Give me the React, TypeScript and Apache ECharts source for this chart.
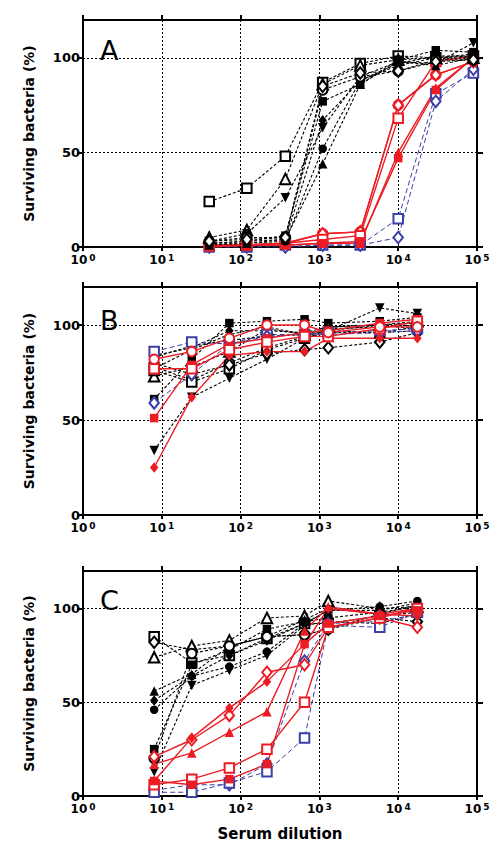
import React, { useEffect, useRef } from "react";
import * as echarts from "echarts";

// ---------- data ----------
const dilutionA = [40, 120, 370, 1100, 3300, 10000, 30000, 90000];
const dilutionBC = [8, 24, 72, 216, 648, 1296, 5832, 17496];
const yTickValues = [0, 50, 100];
const panelLetters = ["A", "B", "C"];
const yTitle = "Surviving bacteria (%)";
const xTitle = "Serum dilution";

// Panel A
const aBlackOpenSquare = [24, 31, 48, 87, 97, 101, 100, 101];
const aBlackOpenTriangle = [5, 9, 36, 86, 96, 99, 100, 100];
const aBlackInvTriangle = [3, 7, 26, 63, 90, 98, 97, 108];
const aBlackDiamond = [2, 3, 4, 67, 88, 96, 100, 102];
const aBlackCircle = [2, 2, 3, 52, 88, 97, 101, 101];
const aBlackTriangle = [1, 2, 4, 44, 86, 98, 96, 100];
const aBlackSquare = [2, 3, 6, 77, 86, 99, 104, 103];
const aBlackOpenCircle = [3, 5, 5, 83, 90, 93, 99, 99];
const aBlackOpenDiamond = [3, 4, 5, 85, 92, 93, 98, 99];
const aRedOpenCircle = [1, 1, 2, 7, 8, 75, 91, 98];
const aRedOpenSquare = [1, 1, 2, 4, 6, 68, 98, 101];
const aRedSquare = [0, 1, 1, 2, 3, 47, 83, 100];
const aRedTriangle = [0, 1, 1, 2, 2, 50, 84, 100];
const aBlueOpenSquare = [0, 0, 1, 1, 1, 15, 81, 92];
const aBlueOpenDiamond = [0, 0, 0, 1, 1, 5, 77, 94];

// Panel B
const bBlackSquare = [61, 82, 101, 102, 103, 101, 102, 104];
const bBlackDiamond = [84, 88, 97, 97, 96, 99, 100, 101];
const bBlackCircle = [83, 89, 92, 94, 95, 97, 100, 98];
const bBlackOpenTriangle = [73, 78, 86, 98, 95, 99, 100, 102];
const bBlackOpenCircle = [78, 71, 80, 88, 94, 97, 96, 97];
const bBlackOpenSquare = [76, 70, 77, 87, 93, 96, 96, 99];
const bBlackInvTriangle = [34, 62, 72, 82, 93, 97, 109, 106];
const bBlackOpenDiamond = [80, 74, 79, 85, 87, 88, 91, 96];
const bBlackTriangle = [77, 87, 95, 99, 95, 98, 99, 100];
const bRedSquare = [51, 79, 90, 93, 96, 97, 101, 103];
const bRedDiamond = [25, 62, 84, 86, 86, 93, 93, 93];
const bRedOpenSquare = [77, 77, 87, 91, 94, 94, 98, 102];
const bRedOpenCircle = [82, 86, 93, 100, 100, 96, 99, 99];
const bBlueOpenSquare = [86, 91, 90, 95, 95, 96, 97, 98];
const bBlueOpenDiamond = [59, 74, 90, 94, 95, 95, 96, 97];

// Panel C
const cBlackOpenSquare = [85, 71, 75, 84, 92, 92, 96, 98];
const cBlackOpenDiamond = [82, 78, 80, 85, 86, 89, 95, 93];
const cBlackOpenTriangle = [74, 80, 83, 95, 96, 104, 100, 101];
const cBlackTriangle = [56, 65, 80, 85, 94, 100, 97, 102];
const cBlackDiamond = [51, 64, 75, 83, 92, 99, 99, 103];
const cBlackCircle = [46, 64, 69, 77, 92, 99, 101, 104];
const cBlackSquare = [25, 70, 78, 89, 93, 95, 98, 101];
const cBlackInvTriangle = [13, 59, 67, 75, 91, 93, 92, 97];
const cBlackOpenCircle = [20, 76, 80, 85, 86, 89, 97, 100];
const cRedOpenDiamond = [21, 30, 43, 66, 70, 90, 95, 90];
const cRedDiamond = [8, 31, 47, 61, 81, 100, 97, 96];
const cRedTriangle = [17, 23, 34, 45, 88, 101, 97, 100];
const cRedOpenSquare = [6, 9, 15, 25, 50, 90, 95, 100];
const cRedSquare = [8, 6, 9, 17, 81, 92, 96, 99];
const cBlueOpenDiamond = [3, 6, 6, 17, 72, 92, 93, 97];
const cBlueOpenSquare = [2, 2, 7, 13, 31, 91, 90, 98];

type Group = "black" | "red" | "blue";
type Mark = "sq" | "osq" | "tri" | "otri" | "itri" | "dia" | "odia" | "cir" | "ocir";
interface Curve { values: number[]; mark: Mark; group: Group }

const curvesA: Curve[] = [
  { values: aBlueOpenSquare, mark: "osq", group: "blue" },
  { values: aBlueOpenDiamond, mark: "odia", group: "blue" },
  { values: aRedOpenCircle, mark: "ocir", group: "red" },
  { values: aRedOpenCircle, mark: "odia", group: "red" },
  { values: aRedOpenSquare, mark: "osq", group: "red" },
  { values: aRedSquare, mark: "sq", group: "red" },
  { values: aRedTriangle, mark: "tri", group: "red" },
  { values: aBlackOpenSquare, mark: "osq", group: "black" },
  { values: aBlackOpenTriangle, mark: "otri", group: "black" },
  { values: aBlackInvTriangle, mark: "itri", group: "black" },
  { values: aBlackDiamond, mark: "dia", group: "black" },
  { values: aBlackCircle, mark: "cir", group: "black" },
  { values: aBlackTriangle, mark: "tri", group: "black" },
  { values: aBlackSquare, mark: "sq", group: "black" },
  { values: aBlackOpenCircle, mark: "ocir", group: "black" },
  { values: aBlackOpenDiamond, mark: "odia", group: "black" },
];

const curvesB: Curve[] = [
  { values: bBlackSquare, mark: "sq", group: "black" },
  { values: bBlackDiamond, mark: "dia", group: "black" },
  { values: bBlackCircle, mark: "cir", group: "black" },
  { values: bBlackOpenTriangle, mark: "otri", group: "black" },
  { values: bBlackOpenCircle, mark: "ocir", group: "black" },
  { values: bBlackOpenSquare, mark: "osq", group: "black" },
  { values: bBlackInvTriangle, mark: "itri", group: "black" },
  { values: bBlackOpenDiamond, mark: "odia", group: "black" },
  { values: bBlackTriangle, mark: "tri", group: "black" },
  { values: bBlueOpenSquare, mark: "osq", group: "blue" },
  { values: bBlueOpenDiamond, mark: "odia", group: "blue" },
  { values: bRedSquare, mark: "sq", group: "red" },
  { values: bRedDiamond, mark: "dia", group: "red" },
  { values: bRedOpenSquare, mark: "osq", group: "red" },
  { values: bRedOpenCircle, mark: "ocir", group: "red" },
];

const curvesC: Curve[] = [
  { values: cBlackOpenSquare, mark: "osq", group: "black" },
  { values: cBlackOpenDiamond, mark: "odia", group: "black" },
  { values: cBlackOpenTriangle, mark: "otri", group: "black" },
  { values: cBlackTriangle, mark: "tri", group: "black" },
  { values: cBlackDiamond, mark: "dia", group: "black" },
  { values: cBlackCircle, mark: "cir", group: "black" },
  { values: cBlackSquare, mark: "sq", group: "black" },
  { values: cBlackInvTriangle, mark: "itri", group: "black" },
  { values: cBlackOpenCircle, mark: "ocir", group: "black" },
  { values: cBlueOpenDiamond, mark: "odia", group: "blue" },
  { values: cBlueOpenSquare, mark: "osq", group: "blue" },
  { values: cRedOpenDiamond, mark: "odia", group: "red" },
  { values: cRedDiamond, mark: "dia", group: "red" },
  { values: cRedTriangle, mark: "tri", group: "red" },
  { values: cRedOpenSquare, mark: "osq", group: "red" },
  { values: cRedSquare, mark: "sq", group: "red" },
];

const panelCurves = [curvesA, curvesB, curvesC];
const panelDilutions = [dilutionA, dilutionBC, dilutionBC];

// ---------- styling ----------
const FONT = "DejaVu Sans";
const COLORS: Record<Group, string> = { black: "#000000", red: "#ec1c24", blue: "#3b3fa6" };
const LINE: Record<Group, any> = {
  black: { width: 1.1, type: [3, 2] },
  red: { width: 1.4, type: "solid" },
  blue: { width: 1, type: [5, 3] },
};
const gridTops = [20, 287, 571];
const gridHeights = [227, 228, 225];
const letterTops = [37, 307, 587];
const GRID_LEFT = 83;
const GRID_WIDTH = 394;

function markStyle(mark: Mark, color: string) {
  const open = mark === "osq" || mark === "otri" || mark === "odia" || mark === "ocir";
  let symbol = "rect";
  let size: any = 8;
  let rotate = 0;
  switch (mark) {
    case "sq": symbol = "rect"; size = 8.5; break;
    case "osq": symbol = "rect"; size = 9.5; break;
    case "tri": symbol = "triangle"; size = 9.5; break;
    case "otri": symbol = "triangle"; size = 10.5; break;
    case "itri": symbol = "triangle"; size = 9.5; rotate = 180; break;
    case "dia": symbol = "diamond"; size = [8.5, 10.5]; break;
    case "odia": symbol = "diamond"; size = [9.5, 11.5]; break;
    case "cir": symbol = "circle"; size = 8.5; break;
    case "ocir": symbol = "circle"; size = 9.5; break;
  }
  const itemStyle = open
    ? { color: "#ffffff", borderColor: color, borderWidth: 2 }
    : { color, borderWidth: 0 };
  return { symbol, symbolSize: size, symbolRotate: rotate, itemStyle };
}

function buildOption() {
  const grid: any[] = [];
  const xAxis: any[] = [];
  const yAxis: any[] = [];
  const series: any[] = [];
  const graphic: any[] = [];

  for (let p = 0; p < 3; p++) {
    grid.push({ left: GRID_LEFT, top: gridTops[p], width: GRID_WIDTH, height: gridHeights[p], containLabel: false });
    const isLast = p === 2;
    xAxis.push({
      type: "log", logBase: 10, min: 1, max: 100000, gridIndex: p, position: "bottom",
      axisLine: { show: true, onZero: false, lineStyle: { color: "#000", width: 2 } },
      axisTick: { show: true, inside: false, length: 4, lineStyle: { color: "#000", width: 2 } },
      minorTick: { show: false },
      axisLabel: {
        show: true, margin: 6,
        formatter: (v: number) => `{b|10}{s|${Math.round(Math.log10(v))}}`,
        rich: {
          b: { fontFamily: FONT, fontWeight: "bold", fontSize: 12, color: "#000", lineHeight: 14 },
          s: { fontFamily: FONT, fontWeight: "bold", fontSize: 9, color: "#000", verticalAlign: "top", lineHeight: 9, padding: [0, 0, 0, 2] },
        },
      },
      splitLine: { show: true, lineStyle: { color: "#000", width: 1, type: [2, 2] } },
      name: isLast ? xTitle : "",
      nameLocation: "middle", nameGap: 30,
      nameTextStyle: { fontFamily: FONT, fontWeight: "bold", fontSize: 15, color: "#000" },
    });
    xAxis.push({
      type: "log", logBase: 10, min: 1, max: 100000, gridIndex: p, position: "top",
      axisLine: { show: true, onZero: false, lineStyle: { color: "#000", width: 2 } },
      axisTick: { show: true, inside: false, length: 5, lineStyle: { color: "#000", width: 2 } },
      axisLabel: { show: false }, splitLine: { show: false }, minorTick: { show: false },
    });
    yAxis.push({
      type: "value", min: 0, max: 120, interval: 50, gridIndex: p, position: "left",
      axisLine: { show: true, onZero: false, lineStyle: { color: "#000", width: 2 } },
      axisTick: { show: true, inside: false, length: 6, customValues: yTickValues, lineStyle: { color: "#000", width: 2 } },
      axisLabel: {
        show: true, margin: 3, customValues: yTickValues,
        fontFamily: FONT, fontWeight: "bold", fontSize: 13, color: "#000",
      },
      splitLine: { show: true, lineStyle: { color: "#000", width: 1, type: [2, 2] } },
      name: yTitle, nameLocation: "middle", nameGap: 47, nameRotate: 90,
      nameTextStyle: { fontFamily: FONT, fontWeight: "bold", fontSize: 14, color: "#000" },
    });
    yAxis.push({
      type: "value", min: 0, max: 120, interval: 50, gridIndex: p, position: "right",
      axisLine: { show: true, onZero: false, lineStyle: { color: "#000", width: 2 } },
      axisTick: { show: true, inside: false, length: 6, customValues: yTickValues, lineStyle: { color: "#000", width: 2 } },
      axisLabel: { show: false }, splitLine: { show: false },
    });

    const dil = panelDilutions[p];
    panelCurves[p].forEach((c) => {
      const color = COLORS[c.group];
      const ms = markStyle(c.mark, color);
      series.push({
        type: "line",
        xAxisIndex: 2 * p, yAxisIndex: 2 * p,
        data: dil.map((x, i) => [x, c.values[i]]),
        showSymbol: true,
        symbol: ms.symbol, symbolSize: ms.symbolSize, symbolRotate: ms.symbolRotate,
        itemStyle: ms.itemStyle,
        lineStyle: { color, ...LINE[c.group] },
        silent: true,
        z: 3,
      });
    });

    graphic.push({
      type: "text", left: 100, top: letterTops[p],
      style: { text: panelLetters[p], fontFamily: FONT, fontSize: 27, fontWeight: "normal", fill: "#000" },
      z: 10,
    });
  }

  return { animation: false, backgroundColor: "#fff", grid, xAxis, yAxis, series, graphic };
}

export default function App() {
  const ref = useRef<HTMLDivElement>(null);
  useEffect(() => {
    if (!ref.current) return;
    const chart = echarts.init(ref.current, undefined, { renderer: "svg" });
    chart.setOption(buildOption() as any);
    return () => chart.dispose();
  }, []);
  return (
    <div
      ref={ref}
      style={{ position: "fixed", left: 0, top: 0, width: 498, height: 854, background: "#fff" }}
    />
  );
}
